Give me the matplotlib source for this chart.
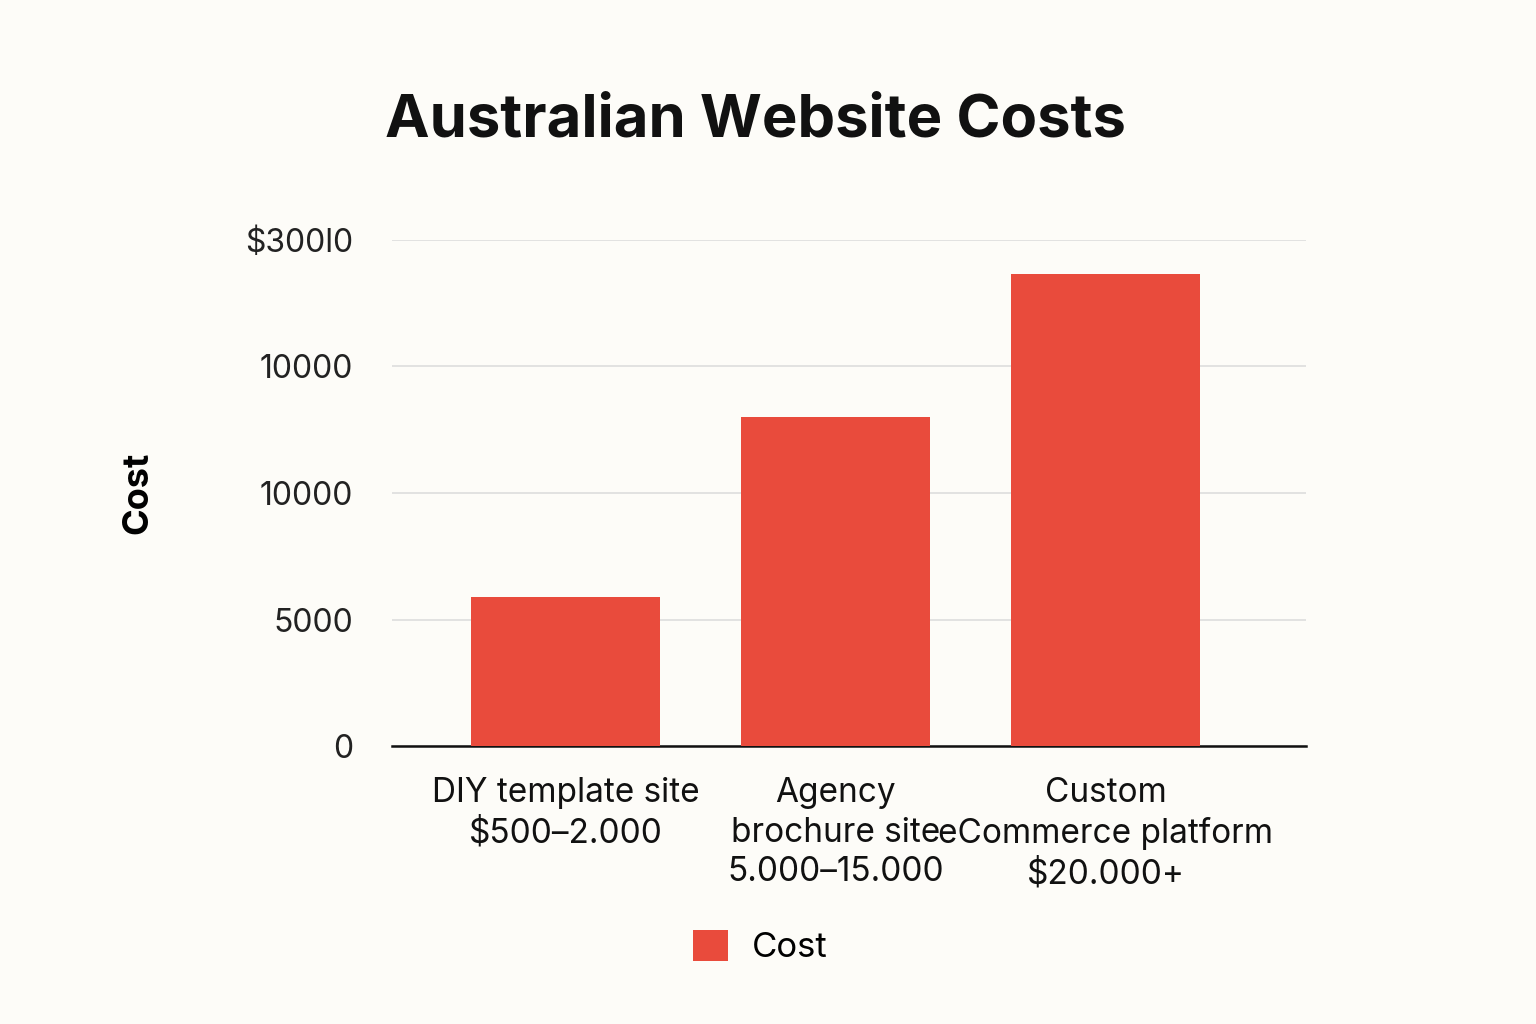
import matplotlib.pyplot as plt

categories = ["DIY template site\n$500–2.000", "Agency\nbrochure site\n5.000–15.000",
              "Custom\neCommerce platform\n$20.000+"]
costs = [5900, 13000, 18650]
tick_values = [0, 5000, 10000, 15000, 20000]
tick_labels = ["0", "5000", "10000", "10000", "$300l0"]

plt.rcParams['font.family'] = ['Inter', 'DejaVu Sans']
bg = '#FDFCF8'
fig = plt.figure(figsize=(15.36, 10.24), dpi=100, facecolor=bg)
ax = fig.add_axes([0.255, 0.271, 0.595, 0.495], facecolor=bg)

x = list(range(len(categories)))
ax.bar(x, costs, width=0.7, color='#E94B3C', label='Cost', zorder=3)
ax.set_xlim(-0.644, 2.74)
ax.set_ylim(0, 20000)
ax.set_yticks(tick_values)
ax.set_yticklabels(tick_labels, fontsize=23, color='#222222')
ax.set_xticks(x)
ax.set_xticklabels(categories, fontsize=24, color='#111111', linespacing=1.3)
ax.tick_params(length=0, pad=28)
ax.tick_params(axis='x', pad=22)
ax.grid(axis='y', color='#DDDDDD', linewidth=1.2, zorder=0)
for s in ['top', 'right', 'left']:
    ax.spines[s].set_visible(False)
ax.spines['bottom'].set_linewidth(1.8)
ax.spines['bottom'].set_color('#111111')
ax.set_ylabel('Cost', fontsize=26, fontweight='bold', labelpad=65)

fig.text(0.492, 0.882, 'Australian Website Costs', ha='center', va='center',
         fontsize=43, fontweight='bold', color='#111111')
fig.legend(loc='center', bbox_to_anchor=(0.495, 0.075), frameon=False, fontsize=25,
           handlelength=1.0, handleheight=1.0, handletextpad=0.7)
fig.savefig('out.png', facecolor=bg)
